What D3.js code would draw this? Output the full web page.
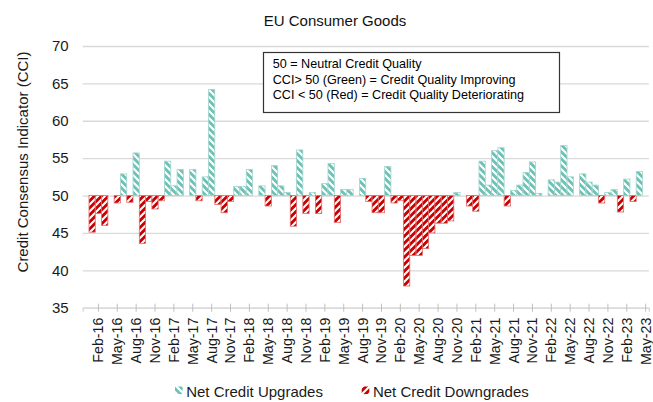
<!DOCTYPE html>
<html>
<head>
<meta charset="utf-8">
<script src="https://cdn.jsdelivr.net/npm/d3@7"></script>
<style>
  body { margin: 0; background: #fff; }
  text { font-family: "Liberation Sans", Arial, sans-serif; }
</style>
</head>
<body>
<div id="my_dataviz"></div>
<script>
// month categories (Dec-15 slot is empty on the chart)
var months = [
  "Dec-15",
  "Jan-16","Feb-16","Mar-16","Apr-16","May-16","Jun-16","Jul-16","Aug-16","Sep-16","Oct-16","Nov-16","Dec-16",
  "Jan-17","Feb-17","Mar-17","Apr-17","May-17","Jun-17","Jul-17","Aug-17","Sep-17","Oct-17","Nov-17","Dec-17",
  "Jan-18","Feb-18","Mar-18","Apr-18","May-18","Jun-18","Jul-18","Aug-18","Sep-18","Oct-18","Nov-18","Dec-18",
  "Jan-19","Feb-19","Mar-19","Apr-19","May-19","Jun-19","Jul-19","Aug-19","Sep-19","Oct-19","Nov-19","Dec-19",
  "Jan-20","Feb-20","Mar-20","Apr-20","May-20","Jun-20","Jul-20","Aug-20","Sep-20","Oct-20","Nov-20","Dec-20",
  "Jan-21","Feb-21","Mar-21","Apr-21","May-21","Jun-21","Jul-21","Aug-21","Sep-21","Oct-21","Nov-21","Dec-21",
  "Jan-22","Feb-22","Mar-22","Apr-22","May-22","Jun-22","Jul-22","Aug-22","Sep-22","Oct-22","Nov-22","Dec-22",
  "Jan-23","Feb-23","Mar-23","Apr-23","May-23"
];

// CCI per month
var cci = [
  50,
  45.1, 47.6, 46.0, 50,   49.0, 52.9, 49.1, 55.7, 43.6, 49.2, 48.2, 49.3,
  54.6, 51.3, 53.5, 50,   53.5, 49.3, 52.5, 64.2, 48.8, 47.7, 49.2, 51.2,
  51.2, 53.5, 50,   51.3, 48.6, 54.0, 51.3, 50.4, 45.9, 56.1, 47.6, 50.4,
  47.6, 51.6, 54.3, 46.4, 50.8, 50.8, 50,   52.3, 49.2, 47.7, 47.7, 53.9,
  49.0, 49.3, 37.9, 42.0, 42.0, 42.9, 45.0, 46.3, 46.3, 46.6, 50.4, 50,
  48.6, 47.9, 54.6, 51.4, 56.0, 56.4, 48.6, 50.7, 51.4, 53.1, 54.5, 50.3,
  50,   52.1, 51.8, 56.7, 52.5, 50,   52.9, 51.8, 51.4, 49.0, 50.4, 50.8,
  47.8, 52.2, 49.2, 53.2, 50
];

var tickLabels = [
  "Feb-16","May-16","Aug-16","Nov-16","Feb-17","May-17","Aug-17","Nov-17",
  "Feb-18","May-18","Aug-18","Nov-18","Feb-19","May-19","Aug-19","Nov-19",
  "Feb-20","May-20","Aug-20","Nov-20","Feb-21","May-21","Aug-21","Nov-21",
  "Feb-22","May-22","Aug-22","Nov-22","Feb-23","May-23"
];

var yTicks = [35, 40, 45, 50, 55, 60, 65, 70];

var noteLines = [
  "50 = Neutral Credit Quality",
  "CCI> 50 (Green) = Credit Quality Improving",
  "CCI < 50 (Red) = Credit Quality Deteriorating"
];

var legendNames = ["Net Credit Upgrades", "Net Credit Downgrades"];

var W = 653, H = 402;
var plot = {left: 82.7, right: 648.8, top: 46, bottom: 307.7};
var green = "#6dc1b5", red = "#c80000";

var svg = d3.select("#my_dataviz")
  .append("svg")
    .attr("width", W)
    .attr("height", H);

// hatch patterns
var defs = svg.append("defs");
var up = defs.append("pattern")
    .attr("id", "hatchGreen")
    .attr("patternUnits", "userSpaceOnUse")
    .attr("width", 7).attr("height", 7);
up.append("rect").attr("width", 7).attr("height", 7).attr("fill", green);
up.append("path")
    .attr("d", "M0,0L7,7M-1,6L1,8M6,-1L8,1")
    .attr("stroke", "#fff").attr("stroke-width", 2.1);

var dn = defs.append("pattern")
    .attr("id", "hatchRed")
    .attr("patternUnits", "userSpaceOnUse")
    .attr("width", 7).attr("height", 7);
dn.append("rect").attr("width", 7).attr("height", 7).attr("fill", red);
dn.append("path")
    .attr("d", "M0,7L7,0M-1,1L1,-1M6,8L8,6")
    .attr("stroke", "#fff").attr("stroke-width", 2.1);

// scales
var x = d3.scaleBand()
  .domain(months)
  .range([plot.left, plot.right])
  .padding(0);

var y = d3.scaleLinear()
  .domain([35, 70])
  .range([plot.bottom, plot.top]);

// title
svg.append("text")
    .attr("x", 335)
    .attr("y", 26)
    .attr("text-anchor", "middle")
    .style("font-size", "15px")
    .style("fill", "#111")
    .text("EU Consumer Goods");

// Y axis + gridlines
var yAxis = svg.append("g")
    .attr("transform", "translate(" + plot.left + ",0)")
    .call(d3.axisLeft(y)
      .tickValues(yTicks)
      .tickSize(-(plot.right - plot.left))
      .tickPadding(14));
yAxis.select(".domain").remove();
yAxis.selectAll("line").attr("stroke", "#d9d9d9").attr("stroke-width", 1.3);
yAxis.selectAll("text")
    .style("font-size", "15px")
    .style("fill", "#1a1a1a");

svg.append("text")
    .attr("transform", "translate(23,162) rotate(-90)")
    .attr("text-anchor", "middle")
    .attr("dy", "0.35em")
    .style("font-size", "15px")
    .style("fill", "#1a1a1a")
    .text("Credit Consensus Indicator (CCI)");

// note box
var note = svg.append("g");
note.append("rect")
    .attr("x", 263.5).attr("y", 52.5)
    .attr("width", 296).attr("height", 60)
    .attr("fill", "#fff")
    .attr("stroke", "#333")
    .attr("stroke-width", 1.2);
note.selectAll("text.note")
  .data(noteLines)
  .enter()
  .append("text")
    .attr("class", "note")
    .attr("x", 272.7)
    .attr("y", function(d, i) { return 68.3 + i * 15.3; })
    .style("font-size", "12.6px")
    .style("fill", "#000")
    .text(function(d) { return d; });

// bars
svg.append("g")
  .selectAll("rect")
  .data(months.map(function(m, i) { return {m: m, v: cci[i]}; })
    .filter(function(d) { return d.v !== 50; }))
  .enter()
  .append("rect")
    .attr("x", function(d) { return x(d.m); })
    .attr("width", x.bandwidth())
    .attr("y", function(d) { return y(Math.max(d.v, 50)); })
    .attr("height", function(d) { return Math.abs(y(d.v) - y(50)); })
    .attr("fill", function(d) { return d.v > 50 ? "url(#hatchGreen)" : "url(#hatchRed)"; })
    .attr("stroke", function(d) { return d.v > 50 ? "#9fd6ce" : "#e26a6a"; })
    .attr("stroke-width", 0.8);

// X axis with cross ticks
var xAxis = svg.append("g")
    .attr("transform", "translate(0," + plot.bottom + ")")
    .call(d3.axisBottom(x)
      .tickValues(tickLabels)
      .tickSize(4)
      .tickPadding(0));
xAxis.select(".domain").attr("stroke", "#d9d9d9").attr("stroke-width", 1.3);
xAxis.selectAll("line")
    .attr("y1", -4)
    .attr("y2", 4)
    .attr("stroke", "#bfbfbf");
xAxis.selectAll("text")
    .attr("y", 0)
    .attr("dy", "0.35em")
    .attr("transform", "translate(0,10) rotate(-90)")
    .attr("text-anchor", "end")
    .style("font-size", "14.2px")
    .style("fill", "#1a1a1a");

// legend
var legend = svg.append("g");
var legendX = [175, 361.7];
legendNames.forEach(function(name, i) {
  legend.append("rect")
      .attr("x", legendX[i]).attr("y", 386.5)
      .attr("width", 7.6).attr("height", 7.6)
      .attr("fill", i === 0 ? "url(#hatchGreen)" : "url(#hatchRed)");
  legend.append("text")
      .attr("x", legendX[i] + 11.2)
      .attr("y", 396.5)
      .style("font-size", "15px")
      .style("fill", "#1a1a1a")
      .text(name);
});
</script>
</body>
</html>
